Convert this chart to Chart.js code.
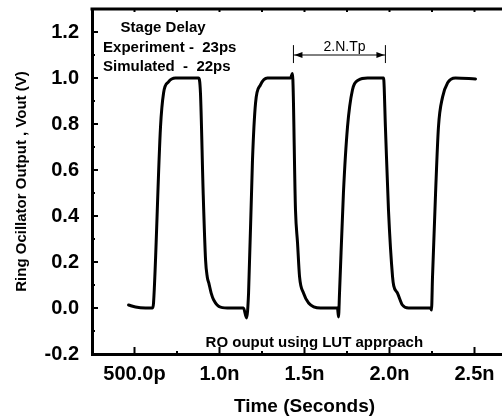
<!DOCTYPE html>
<html>
<head>
<meta charset="utf-8">
<script src="https://cdn.jsdelivr.net/npm/chart.js@4.4.1/dist/chart.umd.min.js"></script>
<style>
  html, body { margin: 0; padding: 0; background: #fff; overflow: hidden; }
</style>
</head>
<body>
<canvas id="roChart" width="530" height="418"></canvas>
<script>
// ring oscillator output, time in ns, voltage in V
const timeNs = [
  0.465, 0.506, 0.565, 0.606, 0.612, 0.653, 0.671, 0.700, 0.741, 0.876,
  0.888, 0.904, 0.918, 0.928, 0.937, 0.951, 0.966, 1.006, 1.065, 1.141,
  1.159, 1.171, 1.194, 1.212, 1.241, 1.282, 1.418, 1.429, 1.447, 1.459,
  1.471, 1.494, 1.524, 1.594, 1.694, 1.700, 1.706, 1.729, 1.753, 1.782,
  1.818, 1.871, 1.965, 1.976, 1.994, 2.018, 2.025, 2.047, 2.076, 2.112,
  2.241, 2.247, 2.253, 2.271, 2.288, 2.312, 2.341, 2.388, 2.506
];
const voutV = [
  0.013, 0.004, 0.0, 0.0, 0.022, 0.787, 0.935, 0.983, 1.0, 1.0,
  0.935, 0.5, 0.209, 0.135, 0.109, 0.065, 0.035, 0.004, 0.0, 0.0,
  -0.043, 0.065, 0.643, 0.891, 0.97, 1.0, 1.0, 1.02, 0.426, 0.283,
  0.135, 0.065, 0.022, 0.0, 0.0, -0.039, 0.065, 0.5, 0.787, 0.948,
  0.991, 1.0, 1.0, 0.787, 0.426, 0.135, 0.096, 0.065, 0.013, 0.0,
  0.0, -0.009, 0.135, 0.5, 0.787, 0.917, 0.978, 1.0, 0.996
];

const xTickValues = [0.5, 1.0, 1.5, 2.0, 2.5];
const xTickLabels = ["500.0p", "1.0n", "1.5n", "2.0n", "2.5n"];
const yTickValues = [-0.2, 0.0, 0.2, 0.4, 0.6, 0.8, 1.0, 1.2];
const yTickLabels = ["-0.2", "0.0", "0.2", "0.4", "0.6", "0.8", "1.0", "1.2"];

const FONT = "'Liberation Sans', Arial, sans-serif";

// inward ticks + top frame
const innerTicks = {
  id: "innerTicks",
  afterDraw(chart) {
    const { ctx, chartArea: a, scales: { x, y } } = chart;
    ctx.save();
    ctx.strokeStyle = "#000";
    ctx.lineWidth = 3;
    ctx.beginPath();
    ctx.moveTo(a.left - 1.5, a.top);
    ctx.lineTo(a.right, a.top);
    ctx.stroke();

    ctx.lineWidth = 2;
    for (let k = 1; k <= 11; k++) {
      const px = x.getPixelForValue(k * 0.25);
      const len = k % 2 === 0 ? 7 : 3;
      ctx.beginPath();
      ctx.moveTo(px, a.bottom);
      ctx.lineTo(px, a.bottom - len);
      ctx.moveTo(px, a.top);
      ctx.lineTo(px, a.top + 3);
      ctx.stroke();
    }
    for (let k = -2; k <= 13; k++) {
      const py = y.getPixelForValue(k / 10);
      const len = k % 2 === 0 ? 6 : 3;
      ctx.beginPath();
      ctx.moveTo(a.left, py);
      ctx.lineTo(a.left + len, py);
      ctx.stroke();
    }
    ctx.restore();
  },
};

// text notes and the 2.N.Tp arrow
const notes = {
  id: "notes",
  afterDraw(chart) {
    const { ctx, scales: { x, y } } = chart;
    const X = (t) => x.getPixelForValue(t);
    const Y = (v) => y.getPixelForValue(v);
    ctx.save();
    ctx.fillStyle = "#000";
    ctx.textAlign = "left";
    ctx.textBaseline = "alphabetic";

    ctx.font = "bold 15px " + FONT;
    ctx.fillText("Stage Delay", X(0.418), Y(1.198));
    ctx.fillText("Experiment -  23ps", X(0.315), Y(1.115));
    ctx.fillText("Simulated  -  22ps", X(0.315), Y(1.032));
    ctx.fillText("RO ouput using LUT approach", X(0.918), Y(-0.168));

    ctx.font = "14px " + FONT;
    ctx.fillText("2.N.Tp", X(1.612), Y(1.117));

    // dimension arrow
    const xl = X(1.435), xr = X(1.976), ya = Y(1.1);
    ctx.strokeStyle = "#000";
    ctx.lineWidth = 1;
    ctx.beginPath();
    ctx.moveTo(xl, Y(1.143));
    ctx.lineTo(xl, Y(1.065));
    ctx.moveTo(xr, Y(1.143));
    ctx.lineTo(xr, Y(1.065));
    ctx.moveTo(xl, ya);
    ctx.lineTo(xr, ya);
    ctx.stroke();
    ctx.beginPath();
    ctx.moveTo(xl + 1, ya);
    ctx.lineTo(xl + 9, ya - 3);
    ctx.lineTo(xl + 9, ya + 3);
    ctx.closePath();
    ctx.moveTo(xr - 1, ya);
    ctx.lineTo(xr - 9, ya - 3);
    ctx.lineTo(xr - 9, ya + 3);
    ctx.closePath();
    ctx.fill();
    ctx.restore();
  },
};

const roChart = document.getElementById("roChart");

new Chart(roChart, {
  type: "line",
  data: {
    datasets: [
      {
        label: "Vout",
        data: timeNs.map((t, i) => ({ x: t, y: voutV[i] })),
        borderColor: "#000",
        borderWidth: 3,
        pointRadius: 0,
        cubicInterpolationMode: "monotone",
        borderJoinStyle: "round",
        borderCapStyle: "round",
        fill: false,
      },
    ],
  },
  options: {
    responsive: false,
    animation: false,
    layout: {
      padding: { top: 9, right: 13, left: 0, bottom: 0 },
    },
    scales: {
      x: {
        type: "linear",
        min: 0.25,
        max: 2.75,
        grid: { display: false },
        border: { display: true, color: "#000", width: 3 },
        afterBuildTicks: (s) => {
          s.ticks = xTickValues.map((v) => ({ value: v }));
        },
        afterFit: (s) => {
          s.height = 64;
          s.paddingLeft = 0;
          s.paddingRight = 0;
        },
        ticks: {
          autoSkip: false,
          maxRotation: 0,
          padding: 0,
          color: "#000",
          font: { family: FONT, size: 20, weight: "bold" },
          callback: (value, index) => xTickLabels[index],
        },
        title: {
          display: true,
          text: "Time (Seconds)",
          color: "#000",
          padding: { top: 0, bottom: 0 },
          font: { family: FONT, size: 19, weight: "bold" },
        },
      },
      y: {
        min: -0.2,
        max: 1.3,
        grid: { display: false },
        border: { display: true, color: "#000", width: 3 },
        afterBuildTicks: (s) => {
          s.ticks = yTickValues.map((v) => ({ value: v }));
        },
        afterFit: (s) => {
          s.width = 92;
          s.paddingTop = 0;
          s.paddingBottom = 0;
        },
        ticks: {
          autoSkip: false,
          padding: 5,
          color: "#000",
          font: { family: FONT, size: 20, weight: "bold" },
          callback: (value, index) => yTickLabels[index],
        },
        title: {
          display: true,
          text: "Ring Ocillator Output , Vout (V)",
          color: "#000",
          padding: { top: 13, bottom: 0 },
          font: { family: FONT, size: 15, weight: "bold" },
        },
      },
    },
    plugins: {
      legend: { display: false },
      tooltip: { enabled: false },
    },
  },
  plugins: [innerTicks, notes],
});
</script>
</body>
</html>
